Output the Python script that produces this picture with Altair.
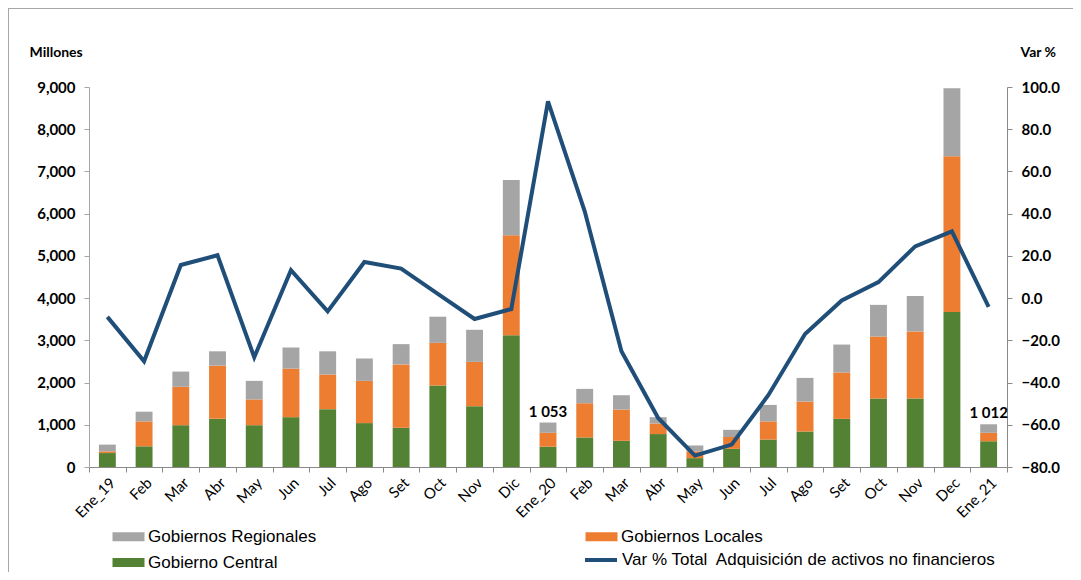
import json
import altair as alt
import pandas as pd

months = ["Ene_19", "Feb", "Mar", "Abr", "May", "Jun", "Jul", "Ago", "Set", "Oct", "Nov", "Dic",
          "Ene_20", "Feb", "Mar", "Abr", "May", "Jun", "Jul", "Ago", "Set", "Oct", "Nov", "Dec", "Ene_21"]

gob_central = [330, 490, 990, 1140, 990, 1180, 1370, 1040, 930, 1930, 1440, 3120,
               480, 700, 620, 780, 210, 430, 650, 840, 1140, 1620, 1620, 3670, 610]
gob_locales = [40, 590, 910, 1260, 610, 1150, 820, 1000, 1500, 1010, 1050, 2370,
               330, 810, 740, 250, 160, 280, 430, 710, 1100, 1470, 1590, 3690, 200]
gob_regionales = [160, 230, 360, 340, 440, 500, 550, 530, 480, 620, 760, 1310,
                  243, 340, 340, 150, 140, 170, 390, 560, 660, 750, 840, 1610, 202]
var_pct = [-8.9, -29.9, 15.7, 20.3, -28.0, 13.2, -6.3, 17.1, 14.0, 2.0, -9.9, -5.2,
           93.2, 41.1, -25.2, -56.8, -74.6, -69.4, -46.0, -17.0, -1.1, 7.6, 24.5, 31.6, -4.2]
bar_labels = ["", "", "", "", "", "", "", "", "", "", "", "",
              "1 053", "", "", "", "", "", "", "", "", "", "", "", "1 012"]

# legend order (column-major in a 2-column legend)
series_names = ["Gobiernos Regionales", "Gobierno Central", "Gobiernos Locales"]
series_colors = ["#A5A5A5", "#548235", "#ED7D31"]
line_name = "Var % Total\u00a0 Adquisición de activos no financieros"

rows = []
for i in range(len(months)):
    for name, vals, order in [("Gobierno Central", gob_central, 0),
                              ("Gobiernos Locales", gob_locales, 1),
                              ("Gobiernos Regionales", gob_regionales, 2)]:
        rows.append({"idx": i, "series": name, "value": vals[i], "ord": order})
bars_df = pd.DataFrame(rows)

lab_df = pd.DataFrame({
    "idx": list(range(len(months))),
    "total": [gob_central[i] + gob_locales[i] + gob_regionales[i] for i in range(len(months))],
    "label": bar_labels,
})
lab_df = lab_df[lab_df["label"] != ""]

line_df = pd.DataFrame({"idx": list(range(len(months))), "var": var_pct, "serie": line_name})

label_expr = json.dumps(months) + "[datum.value]"

x_enc = alt.X("idx:O", scale=alt.Scale(paddingInner=0, paddingOuter=0),
              axis=alt.Axis(title=None, labelExpr=label_expr, labelAngle=-45,
                            tickBand="extent", labelFont="Lato", labelFontSize=15,
                            labelColor="#000000", labelPadding=3, tickSize=5,
                            domainColor="#898989", tickColor="#898989"))

y_left = alt.Y("value:Q", stack="zero",
               scale=alt.Scale(domain=[0, 9000], nice=False),
               axis=alt.Axis(values=list(range(0, 9001, 1000)), format=",.0f", grid=False,
                             title="Millones", titleAngle=0, titleX=-60, titleY=-35,
                             titleAlign="left", titleBaseline="middle",
                             titleFont="Lato", titleFontSize=14, titleFontWeight="bold",
                             labelFont="Lato", labelFontSize=15, labelFontWeight="bold",
                             labelColor="#000000", labelPadding=9, tickSize=5,
                             domainColor="#A6A6A6", tickColor="#A6A6A6"))

bars = alt.Chart(bars_df).mark_bar(width=alt.RelativeBandSize(0.46)).encode(
    x=x_enc,
    y=y_left,
    color=alt.Color("series:N",
                    scale=alt.Scale(domain=series_names, range=series_colors),
                    legend=alt.Legend(title=None, orient="none", legendX=31, legendY=441,
                                      columns=2, columnPadding=268, rowPadding=8,
                                      padding=0, symbolType="M-2,-0.55H2V0.55H-2Z",
                                      symbolSize=256, symbolStrokeWidth=0,
                                      symbolOpacity=1, labelOffset=11,
                                      labelFont="Liberation Sans", labelFontSize=17,
                                      labelColor="#000000", labelLimit=400)),
    order=alt.Order("ord:Q", sort="ascending"),
)

labels = alt.Chart(lab_df).mark_text(dy=-11, font="Lato", fontSize=15, fontWeight="bold",
                                     color="#000000").encode(
    x=alt.X("idx:O"),
    y=alt.Y("total:Q"),
    text="label:N",
)

left = alt.layer(bars, labels)

line = alt.Chart(line_df).mark_line(strokeWidth=4, color="#1F4E79").encode(
    x=alt.X("idx:O"),
    y=alt.Y("var:Q", scale=alt.Scale(domain=[-80, 100], nice=False),
            axis=alt.Axis(orient="right", values=list(range(-80, 101, 20)), format=".1f",
                          grid=False, title="Var %", titleAngle=0, titleX=13, titleY=-35,
                          titleAlign="left", titleBaseline="middle",
                          titleFont="Lato", titleFontSize=14, titleFontWeight="bold",
                          labelFont="Lato", labelFontSize=15, labelFontWeight="bold",
                          labelColor="#000000", labelPadding=9, tickSize=5,
                          domainColor="#898989", tickColor="#898989")),
    stroke=alt.Stroke("serie:N", scale=alt.Scale(domain=[line_name], range=["#1F4E79"]),
                      legend=alt.Legend(title=None, orient="none", legendX=502, legendY=463,
                                        padding=0, symbolType="M-2,0H2", symbolSize=256,
                                        symbolStrokeWidth=4, labelOffset=11,
                                        labelFont="Liberation Sans", labelFontSize=17,
                                        labelColor="#000000", labelLimit=500)),
)

border_left = alt.Chart(line_df).mark_rule(color="#A6A6A6", strokeWidth=1).encode(
    x=alt.value(-80.5), y=alt.value(-79), y2=alt.value(485))
border_top = alt.Chart(line_df).mark_rule(color="#A6A6A6", strokeWidth=1).encode(
    x=alt.value(-81), x2=alt.value(984), y=alt.value(-78.5))

chart = alt.layer(left, line, border_left, border_top).resolve_scale(
    y="independent", color="independent", stroke="independent"
).properties(
    width=918, height=380,
    padding={"left": 81, "top": 79, "right": 66, "bottom": 105},
    autosize=alt.AutoSizeParams(type="none"),
    background="#FFFFFF",
).configure_view(stroke=None)

chart.save("out.html", embed_options={"renderer": "svg", "actions": False})
